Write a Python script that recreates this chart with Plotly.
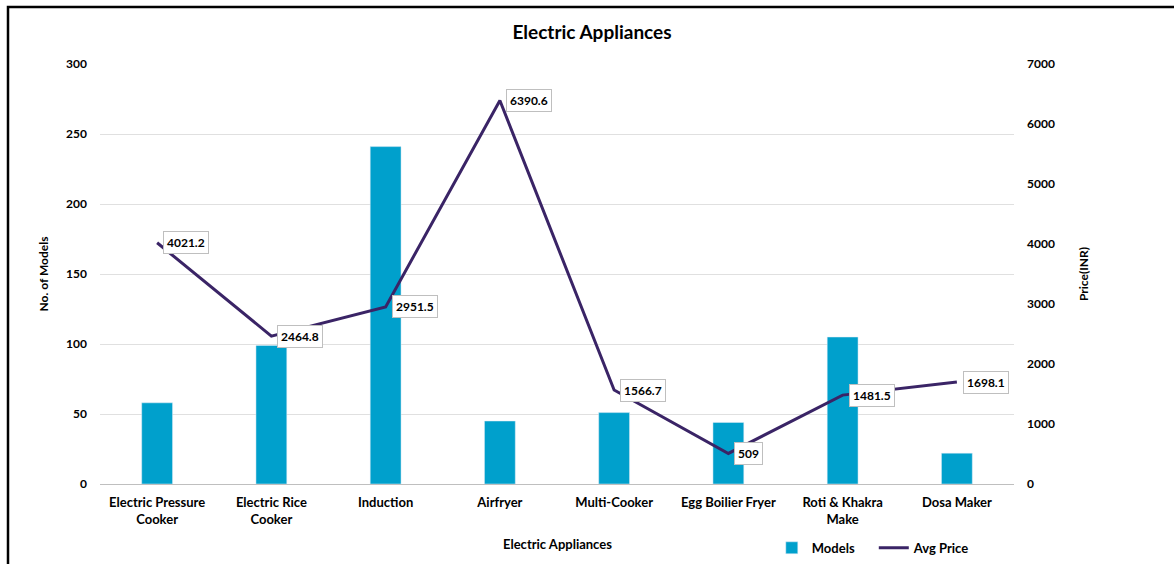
import plotly.graph_objects as go

categories = ["Electric Pressure<br>Cooker", "Electric Rice<br>Cooker", "Induction", "Airfryer",
              "Multi-Cooker", "Egg Boilier Fryer", "Roti & Khakra<br>Make", "Dosa Maker"]
models = [58, 99, 241, 45, 51, 44, 105, 22]
avg_price = [4021.2, 2464.8, 2951.5, 6390.6, 1566.7, 509, 1481.5, 1698.1]
price_labels = ["4021.2", "2464.8", "2951.5", "6390.6", "1566.7", "509", "1481.5", "1698.1"]

FONT = "Lato"
BAR = "#00A0CC"
LINE = "#3A2466"

fig = go.Figure()
fig.add_trace(go.Bar(x=categories, y=models, name="<b>Models</b>", marker_color=BAR,
                     width=0.27, yaxis="y"))
fig.add_trace(go.Scatter(x=categories, y=avg_price, name="<b>Avg Price</b>", mode="lines",
                         line=dict(color=LINE, width=3), yaxis="y2"))

annotations = []
for c, v, t in zip(categories, avg_price, price_labels):
    annotations.append(dict(x=c, y=v, xref="x", yref="y2", text="<b>%s</b>" % t,
                            showarrow=False, xanchor="left", yanchor="middle", xshift=6,
                            bgcolor="white", bordercolor="#BFBFBF", borderwidth=1, borderpad=3,
                            font=dict(family=FONT, size=12, color="black")))

annotations.append(dict(text="<b>Electric Appliances</b>", x=0.5, y=-0.143, xref="paper", yref="paper",
                        showarrow=False, font=dict(family=FONT, size=13, color="black"),
                        xanchor="center", yanchor="middle"))

fig.update_layout(
    width=1174, height=564,
    margin=dict(l=100, r=160, t=64, b=80, autoexpand=False),
    paper_bgcolor="white", plot_bgcolor="white",
    font=dict(family=FONT, size=12, color="black"),
    title=dict(text="<b>Electric Appliances</b>", x=(592 / 1174), xanchor="center",
               y=1 - 32 / 564, yanchor="middle", font=dict(family=FONT, size=19, color="black")),
    bargap=0.73,
    xaxis=dict(showgrid=False, showline=True, linecolor="#BFBFBF", linewidth=1, automargin=False,
               ticks="", tickfont=dict(family=FONT, size=13, color="black"), ticklabelstandoff=6,
               tickprefix="<b>", ticksuffix="</b>"),
    yaxis=dict(range=[0, 300], dtick=50, showgrid=True, gridcolor="#E0E0E0", gridwidth=1,
               zeroline=False, showline=False, ticks="", ticklabelstandoff=12, automargin=False,
               tickfont=dict(family=FONT, size=12, color="black"),
               tickprefix="<b>", ticksuffix="</b>",
               title=dict(text="<b>No. of Models</b>", standoff=14,
                          font=dict(family=FONT, size=12, color="black"))),
    yaxis2=dict(range=[0, 7000], dtick=1000, overlaying="y", side="right", showgrid=False,
                zeroline=False, showline=False, ticks="", ticklabelstandoff=12, automargin=False,
                tickfont=dict(family=FONT, size=12, color="black"),
                tickprefix="<b>", ticksuffix="</b>",
                title=dict(text="<b>Price(INR)</b>", standoff=25,
                           font=dict(family=FONT, size=12, color="black"))),
    legend=dict(orientation="h", x=0.735, y=-0.152, xanchor="left", yanchor="middle",
                font=dict(family=FONT, size=13, color="black"), bgcolor="rgba(0,0,0,0)",
                itemwidth=30, entrywidth=57, entrywidthmode="pixels", traceorder="normal"),
    annotations=annotations,
    shapes=[dict(type="rect", xref="paper", yref="paper", x0=-92 / 914, x1=(1180 - 100) / 914,
                 y0=-(580 - 484) / 420, y1=1 + (64 - 7) / 420,
                 line=dict(color="black", width=2.5), fillcolor="rgba(0,0,0,0)", layer="below")],
    showlegend=True,
)

fig.write_html("out.html")
